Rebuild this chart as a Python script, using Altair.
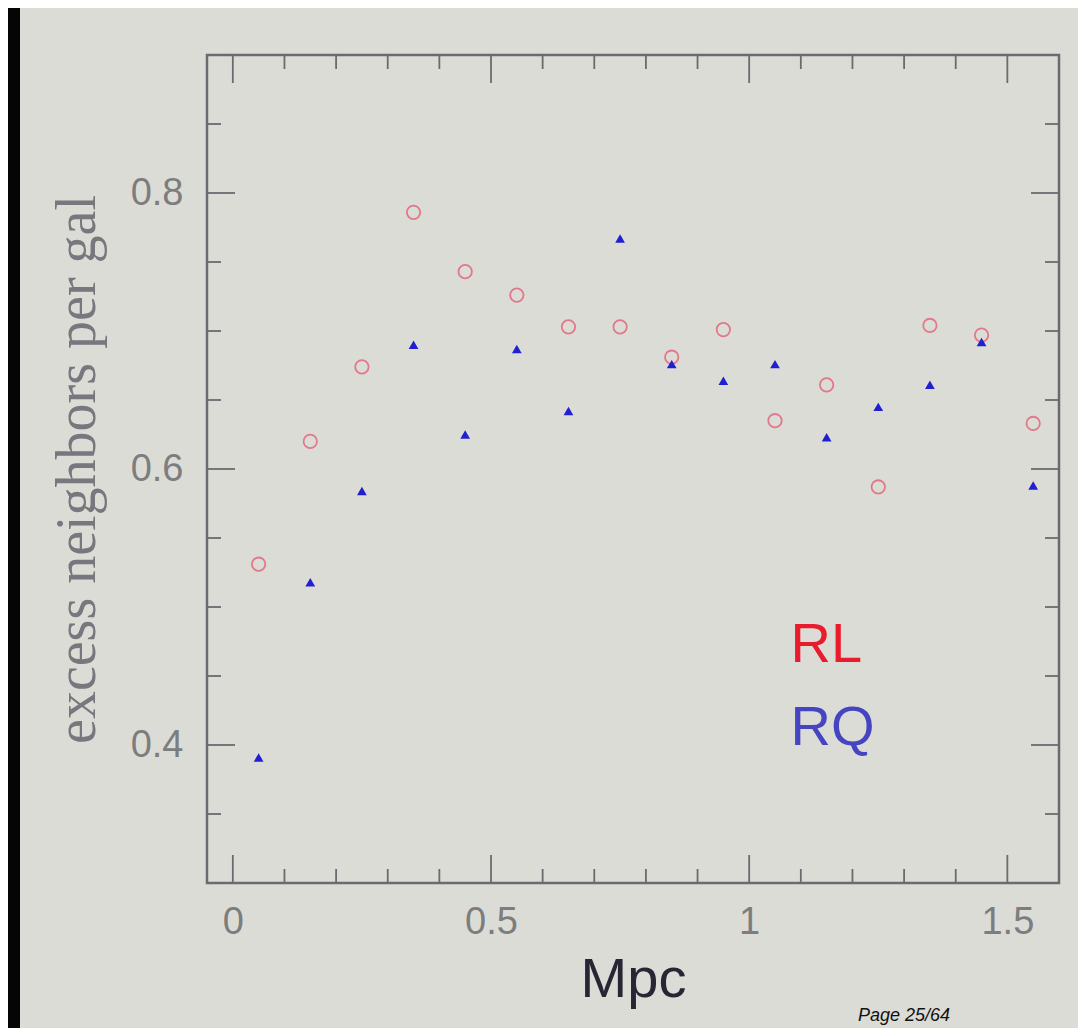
import altair as alt
import pandas as pd

# ---- data ----
r_mpc = [0.05, 0.15, 0.25, 0.35, 0.45, 0.55, 0.65, 0.75,
         0.85, 0.95, 1.05, 1.15, 1.25, 1.35, 1.45, 1.55]
rl_vals = [0.531, 0.620, 0.674, 0.786, 0.743, 0.726, 0.703, 0.703,
           0.681, 0.701, 0.635, 0.661, 0.587, 0.704, 0.697, 0.633]
rq_vals = [0.391, 0.518, 0.584, 0.690, 0.625, 0.687, 0.642, 0.767,
           0.676, 0.664, 0.676, 0.623, 0.645, 0.661, 0.692, 0.588]

x_major = [0, 0.5, 1, 1.5]
x_minor = [0.1, 0.2, 0.3, 0.4, 0.6, 0.7, 0.8, 0.9, 1.1, 1.2, 1.3, 1.4]
y_major = [0.4, 0.6, 0.8]
y_minor = [0.35, 0.45, 0.5, 0.55, 0.65, 0.7, 0.75, 0.85]

legend_names = ["RL", "RQ"]
legend_x = [1.08, 1.08]
legend_y = [0.46, 0.40]

# ---- layout / style ----
W, H = 852, 828
PAD_L, PAD_T = 199, 47
BG = "#dcdcd6"
FRAME = "#6a6a70"
TICK_MAJ, TICK_MIN = 28, 14

xs = alt.Scale(domain=[-0.05, 1.6], nice=False, zero=False)
ys = alt.Scale(domain=[0.3, 0.9], nice=False, zero=False)

xaxis = alt.Axis(values=x_major, labelExpr="format(datum.value, '~g')",
                 ticks=False, domain=False, grid=False,
                 labelFont="Liberation Sans", labelFontSize=38,
                 labelColor="#7d7d80", labelPadding=20,
                 title="Mpc", titleFont="Liberation Sans", titleFontSize=56,
                 titleFontWeight="normal", titleColor="#262634",
                 titlePadding=11)
yaxis = alt.Axis(values=y_major, format=".1f",
                 ticks=False, domain=False, grid=False,
                 labelFont="Liberation Sans", labelFontSize=38,
                 labelColor="#7d7d80", labelPadding=24,
                 title="excess neighbors per gal", titleFont="Liberation Serif",
                 titleFontSize=56, titleFontWeight="normal",
                 titleColor="#77777d", titlePadding=24)


def X(f):
    return alt.X(f, type="quantitative", scale=xs, axis=xaxis)


def Y(f):
    return alt.Y(f, type="quantitative", scale=ys, axis=yaxis)


pts = pd.DataFrame({"x": r_mpc, "rl": rl_vals, "rq": rq_vals})

rl = alt.Chart(pts).mark_point(shape="circle", filled=False, size=180,
                               strokeWidth=1.8, color="#e2687e",
                               opacity=0.85).encode(x=X("x"), y=Y("rl"))
rq = alt.Chart(pts).mark_point(shape="triangle-up", filled=True, size=95,
                               color="#2020d0", opacity=1).encode(x=X("x"), y=Y("rq"))

xmaj = pd.DataFrame({"v": x_major})
xmin = pd.DataFrame({"v": x_minor})
ymaj = pd.DataFrame({"v": y_major})
ymin = pd.DataFrame({"v": y_minor})

tick_layers = []
for df, L in [(xmaj, TICK_MAJ), (xmin, TICK_MIN)]:
    base = alt.Chart(df).mark_rule(color=FRAME, strokeWidth=1.8)
    tick_layers.append(base.encode(x=X("v"), y=alt.value(H), y2=alt.value(H - L)))
    tick_layers.append(base.encode(x=X("v"), y=alt.value(0), y2=alt.value(L)))
for df, L in [(ymaj, TICK_MAJ), (ymin, TICK_MIN)]:
    base = alt.Chart(df).mark_rule(color=FRAME, strokeWidth=1.8)
    tick_layers.append(base.encode(y=Y("v"), x=alt.value(0), x2=alt.value(L)))
    tick_layers.append(base.encode(y=Y("v"), x=alt.value(W), x2=alt.value(W - L)))

leg = pd.DataFrame({"name": legend_names, "x": legend_x, "y": legend_y})
legend_text = alt.Chart(leg).mark_text(
    align="left", baseline="alphabetic", font="Liberation Sans", fontSize=56
).encode(
    x=X("x"), y=Y("y"), text="name:N",
    color=alt.Color("name:N", scale=alt.Scale(domain=legend_names,
                                              range=["#e81c2c", "#4545c2"]),
                    legend=None),
)

# dark slide edge on the left of the photographed slide
edge = alt.Chart(pd.DataFrame({"k": [0]})).mark_rect(color="#050505").encode(
    x=alt.value(-PAD_L), x2=alt.value(-PAD_L + 12),
    y=alt.value(-PAD_T), y2=alt.value(H + 145),
)

page = alt.Chart(pd.DataFrame({"t": ["Page 25/64"]})).mark_text(
    align="left", baseline="top", font="Liberation Sans", fontSize=18,
    fontStyle="italic", color="#111111"
).encode(x=alt.value(651), y=alt.value(952), text="t:N")

chart = alt.layer(edge, *tick_layers, rl, rq, legend_text, page).properties(
    width=W, height=H,
    padding={"left": PAD_L, "top": PAD_T, "right": 19, "bottom": 145},
    autosize=alt.AutoSizeParams(type="none"),
    background=BG,
).configure_view(stroke=FRAME, strokeWidth=2.5, fill=BG, clip=False)

chart.save("out.html", embed_options={"renderer": "svg", "actions": False})
